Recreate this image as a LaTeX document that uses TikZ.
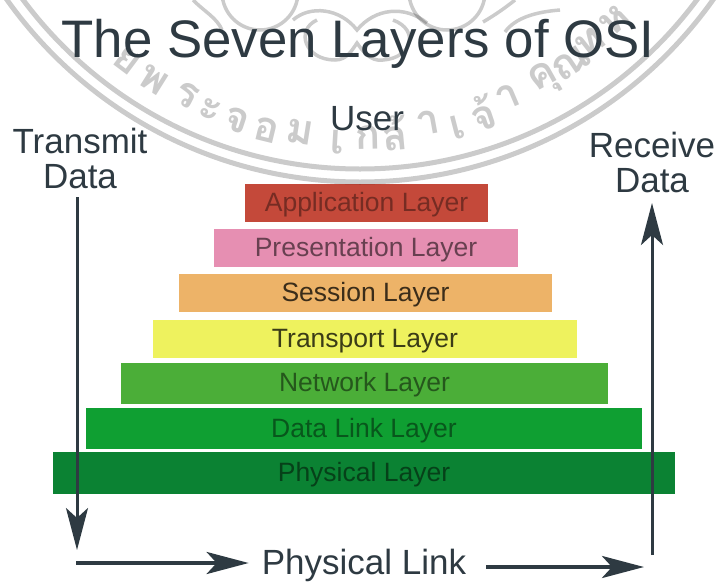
\documentclass[tikz,border=0pt]{standalone}
\usepackage{fontspec}
\setmainfont{Liberation Sans}
\newfontfamily\thaifont[Script=Thai]{Loma}
\usetikzlibrary{arrows.meta}
\definecolor{inkdark}{HTML}{2E3A42}
\definecolor{sealgray}{HTML}{CBCBCB}
\definecolor{layerapp}{HTML}{C4493A}
\definecolor{layerpres}{HTML}{E68FB2}
\definecolor{layersess}{HTML}{EDB368}
\definecolor{layertrans}{HTML}{EEF25E}
\definecolor{layernet}{HTML}{4BAE38}
\definecolor{layerdata}{HTML}{0F9F32}
\definecolor{layerphys}{HTML}{0B8233}
\tikzset{
  layerbox/.style={fill=#1,minimum height=38pt,inner sep=0pt,text height=21pt,text depth=4pt,font=\fontsize{26.5}{28}\selectfont},
  bigtext/.style={text=inkdark,inner sep=0pt,align=center,font=\fontsize{35}{35}\selectfont},
  flowline/.style={draw=inkdark,line width=3pt,-{Stealth[length=42pt,width=22pt,inset=10pt]}},
  sealband/.style={draw=sealgray,line width=5pt},
  sealline/.style={draw=sealgray,line width=3.5pt},
  sealglyph/.style={text=sealgray,inner sep=0pt,font=\thaifont\bfseries\fontsize{42}{42}\selectfont}
}
\begin{document}
\begin{tikzpicture}[x=1pt,y=-1pt]
      \useasboundingbox (0,0) rectangle (716,582);
      \clip (0,0) rectangle (716,582);
      % layers
      \node[layerbox=layerapp,minimum width=243pt,text=layerapp!60!black] (app) at (366.5,203) {Application Layer};
      \node[layerbox=layerpres,minimum width=304pt,text=layerpres!45!black] (pres) at (366,248) {Presentation Layer};
      \node[layerbox=layersess,minimum width=373pt,text=layersess!25!black] (sess) at (365.5,293) {Session Layer};
      \node[layerbox=layertrans,minimum width=424pt,text=layertrans!25!black] (trans) at (365,339) {Transport Layer};
      \node[layerbox=layernet,minimum width=487pt,minimum height=41pt,text=layernet!50!black] (net) at (364.5,383) {Network Layer};
      \node[layerbox=layerdata,minimum width=556pt,minimum height=41pt,text=layerdata!55!black] (data) at (364,428.5) {Data Link Layer};
      \node[layerbox=layerphys,minimum width=622pt,minimum height=42pt,text=layerphys!50!black] (phys) at (364,473) {Physical Layer};
      % seal
      \begin{scope}[blend mode=multiply]
      \coordinate (seal) at (360,-251);
      \draw[sealband] (seal) circle[radius=433pt];
      \draw[sealband] (seal) circle[radius=420pt];
      \draw[sealline] (260,-8) circle[radius=38pt];
      \draw[sealline] (447,-8) circle[radius=38pt];
      \draw[sealline] (293,20) .. controls (310,5) and (340,8) .. (357,30) .. controls (375,8) and (405,5) .. (427,23);
      \draw[sealline] (317,20) .. controls (295,30) and (305,60) .. (335,60) .. controls (347,60) and (352,50) .. (357,43) .. controls (362,50) and (370,62) .. (383,60) .. controls (412,58) and (420,30) .. (393,20);
      \draw[sealline] (193,0) .. controls (205,12) and (217,18) .. (222,30);
      \draw[sealline] (483,22) .. controls (495,15) and (505,8) .. (515,0);
      \draw[sealline] (505,32) .. controls (515,18) and (535,12) .. (560,10);
      \foreach \glyph/\px/\py [count=\i] in {ย/127/60,พ/153/80,ร/187/95,ะ/210/110,จ/237/120,อ/267/130,ม/300/132,เ/337/142,ก/368/137,ล้/395/133,า/428/123,เ/458/127,จ้/483/113,า/508/97,คุ/545/80,ณ/571/63,ท/590/43,ห/615/20}
        \node[sealglyph,rotate={atan2(\px-360,\py+251)}] (glyph\i) at (\px,\py) {\glyph};
      \end{scope}
      % labels
      \node[text=inkdark,inner sep=0pt,anchor=base,font=\fontsize{52.8}{54}\selectfont] (title) at (358,57) {The Seven Layers of OSI};
      \node[bigtext,anchor=base] (user) at (367,130) {User};
      \node[bigtext] (tx) at (80,158) {Transmit\\Data};
      \node[bigtext] (rx) at (652,162) {Receive\\Data};
      \node[bigtext,inner xsep=13pt,anchor=base] (link) at (364,574) {Physical Link};
      % arrows
      \coordinate (txtop) at (77,197);
      \coordinate (txend) at (77,550);
      \coordinate (rxstart) at (652,555);
      \coordinate (rxtip) at (652,203);
      \coordinate (linkstart) at (76,563);
      \coordinate (linkend) at (644,567);
      \draw[flowline] (txtop) -- (txend);
      \draw[flowline] (rxstart) -- (rxtip);
      \draw[flowline,line width=4pt] (linkstart) -- (linkstart -| link.west);
      \draw[flowline,line width=4pt,shorten <=7pt] (link.east |- linkend) -- (linkend);
    \end{tikzpicture}
\end{document}
